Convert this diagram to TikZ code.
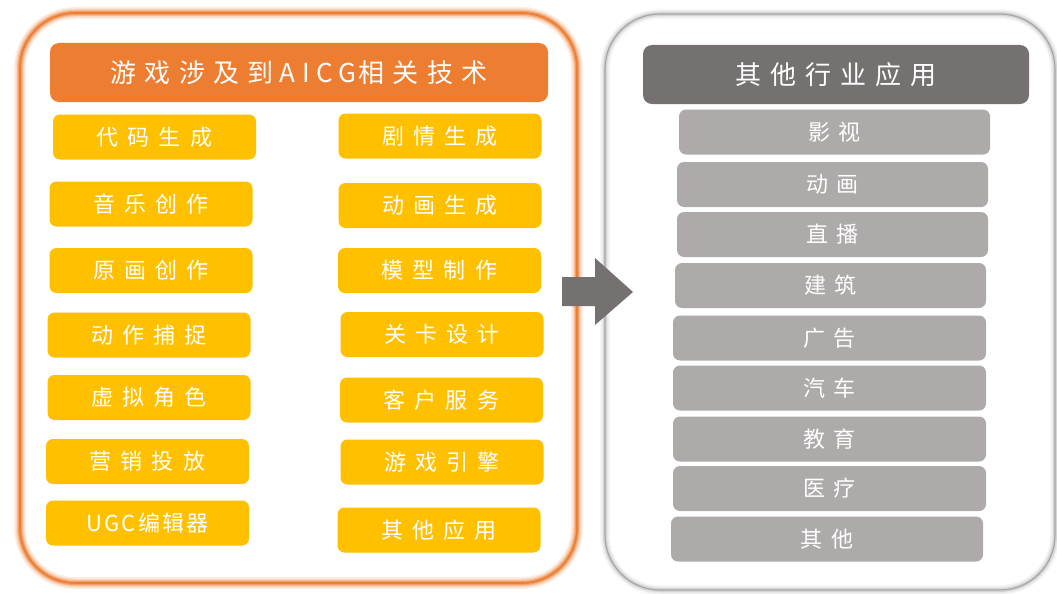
\documentclass[tikz,border=0pt]{standalone}
\usepackage{fontspec}
\setmainfont{Noto Sans CJK SC}
\newfontfamily\cjkitem[LetterSpace=41]{Noto Sans CJK SC}
\newfontfamily\cjkugc[LetterSpace=10]{Noto Sans CJK SC}
\newfontfamily\cjkgray[LetterSpace=39]{Noto Sans CJK SC}
\newfontfamily\cjkheadl[LetterSpace=32]{Noto Sans CJK SC}
\newfontfamily\latinhead[LetterSpace=25]{Noto Sans CJK SC}
\newfontfamily\cjkheadr[LetterSpace=35]{Noto Sans CJK SC}
\definecolor{hdorange}{HTML}{ED7D31}
\definecolor{itemyellow}{HTML}{FFC000}
\definecolor{hdgray}{HTML}{767171}
\definecolor{itemgray}{HTML}{AEAAAA}
\tikzset{
  base/.style={rounded corners=7pt, inner sep=0pt, text=white},
  ybox/.style={base, fill=itemyellow, minimum width=203pt, minimum height=45pt, font=\cjkitem\fontsize{22}{26}\selectfont},
  gbox/.style={base, fill=itemgray, minimum width=311pt, minimum height=45pt, font=\cjkgray\fontsize{22}{26}\selectfont},
  headbox/.style={rounded corners=9pt, inner sep=0pt, text=white, minimum height=59pt},
}
\begin{document}
\begin{tikzpicture}[x=1pt,y=-1pt]
\useasboundingbox[fill=white] (0,0) rectangle (1057,594);
% left container with glow
\foreach \w/\o in {12/0.12,9/0.18,6/0.3,4/0.45}{
  \draw[hdorange, line width=\w pt, opacity=\o, rounded corners=55pt] (20,13) rectangle (577,583);
}
\draw[hdorange, line width=1.6pt, rounded corners=55pt] (20,13) rectangle (577,583);
% right container with shadow
\foreach \w/\o in {10/0.06,7/0.1,4/0.18}{
  \draw[gray, line width=\w pt, opacity=\o, rounded corners=55pt] (605,14) rectangle (1055,590);
}
\draw[black!35, line width=1.2pt, rounded corners=55pt] (605,14) rectangle (1055,590);
% headers
\node[headbox, fill=hdorange, minimum width=498pt, font=\cjkheadl\fontsize{26}{31}\selectfont] (lh) at (299,72.5) {游戏涉及到\hspace{6pt}{\latinhead AICG}\hspace{2pt}相关技术};
\node[headbox, fill=hdgray, minimum width=386pt, font=\cjkheadr\fontsize{26}{31}\selectfont] (rh) at (836,74.5) {其他行业应用};
% left column
\node[ybox] (l1) at (154.5,137) {代码生成};
\node[ybox] (l2) at (151,204) {音乐创作};
\node[ybox] (l3) at (151,270.5) {原画创作};
\node[ybox] (l4) at (149,335) {动作捕捉};
\node[ybox] (l5) at (149,397.5) {虚拟角色};
\node[ybox] (l6) at (147.5,461.5) {营销投放};
\node[ybox, font=\cjkugc\fontsize{22}{26}\selectfont] (l7) at (147.5,523) {UGC编辑器};
% right column
\node[ybox] (r1) at (440,136) {剧情生成};
\node[ybox] (r2) at (440,205.5) {动画生成};
\node[ybox] (r3) at (439.5,270.5) {模型制作};
\node[ybox] (r4) at (442,334.5) {关卡设计};
\node[ybox] (r5) at (441.5,400) {客户服务};
\node[ybox] (r6) at (442,462) {游戏引擎};
\node[ybox] (r7) at (439,530) {其他应用};
% big arrow
\fill[hdgray] (562,277) -- (595,277) -- (595,258) -- (633,292) -- (595,325) -- (595,306) -- (562,306) -- cycle;
% right items
\node[gbox] (g1) at (834.5,132) {影视};
\node[gbox] (g2) at (832.5,184.5) {动画};
\node[gbox] (g3) at (832.5,234.5) {直播};
\node[gbox] (g4) at (830.5,285.5) {建筑};
\node[gbox, minimum width=313pt] (g5) at (829.5,338) {广告};
\node[gbox, minimum width=313pt] (g6) at (829.5,388) {汽车};
\node[gbox, minimum width=313pt] (g7) at (829.5,439) {教育};
\node[gbox, minimum width=313pt] (g8) at (829.5,488.5) {医疗};
\node[gbox, minimum width=312pt] (g9) at (827,539) {其他};
\end{tikzpicture}
\end{document}
